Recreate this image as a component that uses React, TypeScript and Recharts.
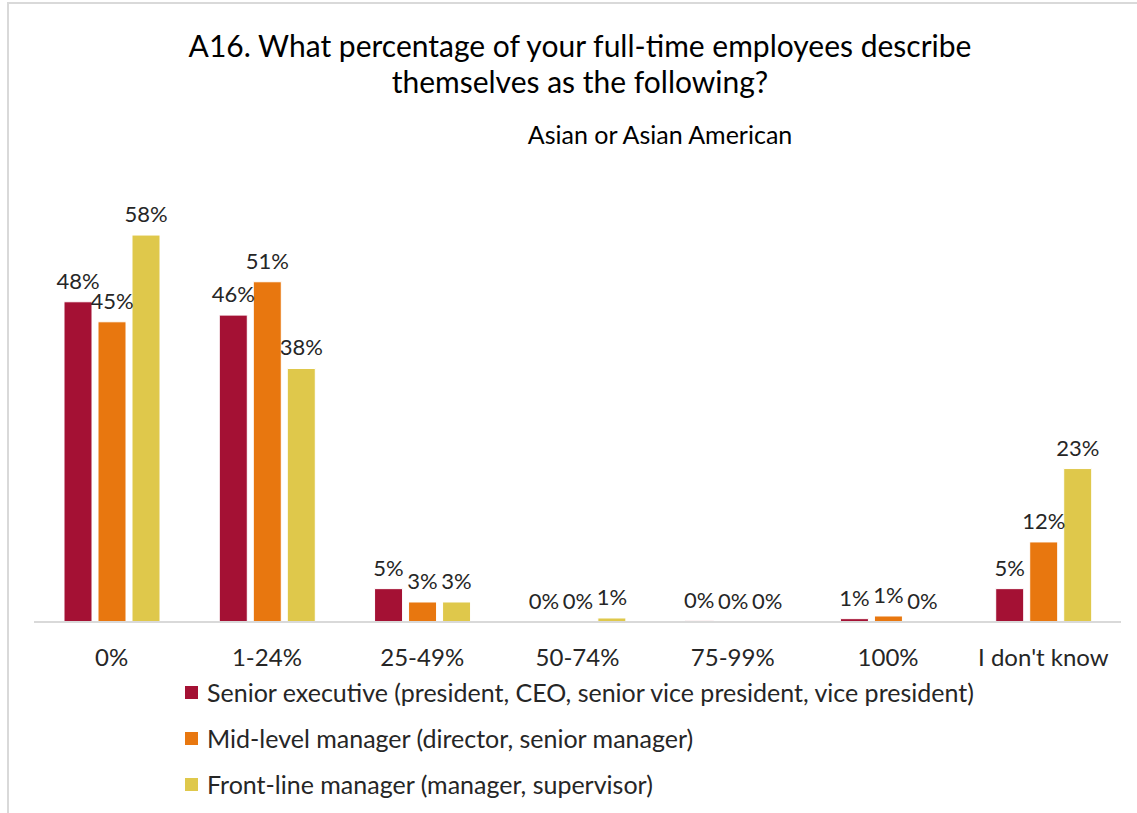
import React from 'react';
import { BarChart, Bar, XAxis, YAxis, LabelList } from 'recharts';

const categories = ['0%', '1-24%', '25-49%', '50-74%', '75-99%', '100%', "I don't know"];
const seniorValues = [48, 46, 5, 0.01, 0.2, 0.5, 5];
const midValues = [45, 51, 3, 0.01, 0.01, 0.9, 12];
const frontValues = [58, 38, 3, 0.6, 0.01, 0.01, 23];
const seriesNames = [
  'Senior executive (president, CEO, senior vice president, vice president)',
  'Mid-level manager (director, senior manager)',
  'Front-line manager (manager, supervisor)',
];
const colors = ['#A41134', '#E8770F', '#DFC84B'];

const data = categories.map((c, i) => ({
  cat: c,
  senior: seniorValues[i],
  mid: midValues[i],
  front: frontValues[i],
}));

const FONT = 'Lato, "Open Sans", sans-serif';
const fmt = (v: any) => `${Math.round(Number(v))}%`;
const labelStyle = { fontFamily: FONT, fontSize: 22, fill: '#262626' };

export default function App() {
  return (
    <div style={{ position: 'absolute', left: 0, top: 0, width: 1137, height: 813, background: '#fff', overflow: 'hidden' }}>
      <div style={{ position: 'absolute', left: 7, top: 2, right: -10, bottom: -10, borderTop: '2px solid #d9d9d9', borderLeft: '2px solid #d9d9d9' }} />
      <div style={{ position: 'absolute', left: 0, width: 1160, top: 27, textAlign: 'center', fontFamily: FONT, fontSize: 30, lineHeight: '36px', color: '#000' }}>
        A16. What percentage of your full-time employees describe
        <br />
        themselves as the following?
      </div>
      <div style={{ position: 'absolute', left: 0, width: 1320, top: 119, lineHeight: '30px', textAlign: 'center', fontFamily: FONT, fontSize: 25, color: '#000' }}>
        Asian or Asian American
      </div>
      <div style={{ position: 'absolute', left: 0, top: 0 }}>
        <BarChart
          width={1137}
          height={813}
          data={data}
          margin={{ top: 155, right: 16, bottom: 161, left: 34 }}
          barSize={28}
          barGap={6}
        >
          <XAxis
            dataKey="cat"
            axisLine={{ stroke: '#d9d9d9', strokeWidth: 2 }}
            tickLine={false}
            tickSize={0}
            tickMargin={27}
            tick={{ fontFamily: FONT, fontSize: 24, fill: '#262626' }}
            interval={0}
          />
          <YAxis hide domain={[0, 70]} />
          <Bar dataKey="senior" name={seriesNames[0]} fill={colors[0]} stroke="#fff" strokeWidth={1} isAnimationActive={false}>
            <LabelList dataKey="senior" position="top" formatter={fmt} style={labelStyle} offset={13} />
          </Bar>
          <Bar dataKey="mid" name={seriesNames[1]} fill={colors[1]} stroke="#fff" strokeWidth={1} isAnimationActive={false}>
            <LabelList dataKey="mid" position="top" formatter={fmt} style={labelStyle} offset={13} />
          </Bar>
          <Bar dataKey="front" name={seriesNames[2]} fill={colors[2]} stroke="#fff" strokeWidth={1} isAnimationActive={false}>
            <LabelList dataKey="front" position="top" formatter={fmt} style={labelStyle} offset={13} />
          </Bar>
        </BarChart>
      </div>
      <div style={{ position: 'absolute', left: 185, top: 669, fontFamily: FONT, fontSize: 25, color: '#262626' }}>
        {seriesNames.map((n, i) => (
          <div key={i} style={{ display: 'flex', alignItems: 'center', height: 46 }}>
            <span style={{ display: 'inline-block', width: 13, height: 13, background: colors[i], marginRight: 9 }} />
            <span>{n}</span>
          </div>
        ))}
      </div>
    </div>
  );
}
